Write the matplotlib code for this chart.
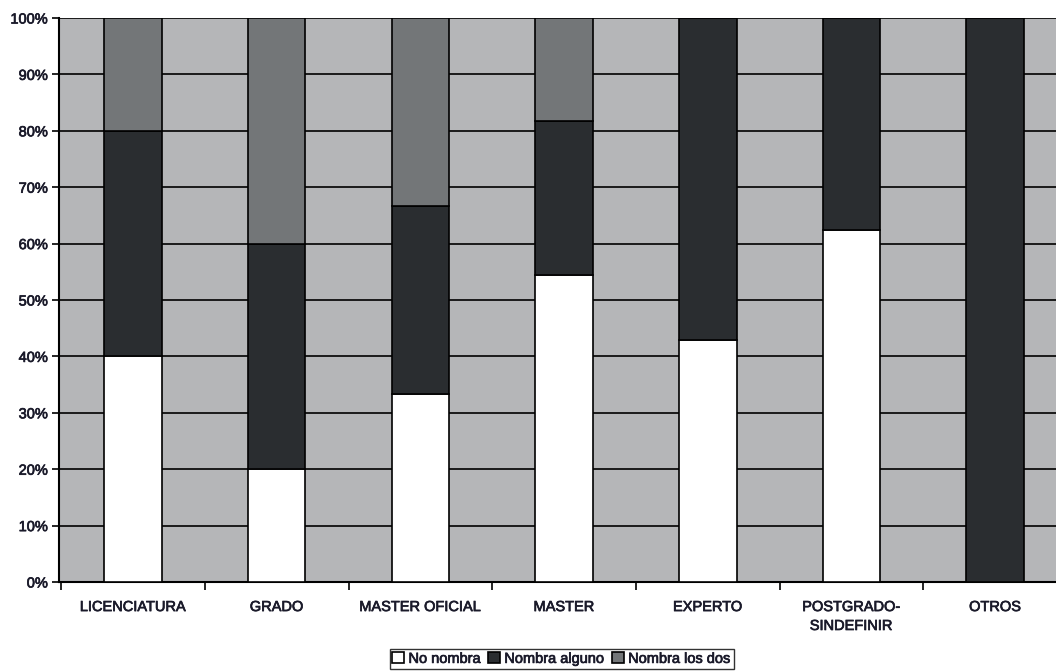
import matplotlib
matplotlib.use("Agg")
import matplotlib.pyplot as plt
import matplotlib.patheffects as pe
import numpy as np

plt.rcParams['font.family'] = ['Liberation Sans', 'DejaVu Sans']
plt.rcParams['font.size'] = 10.5
plt.rcParams['text.color'] = '#1a1a2a'
plt.rcParams['xtick.color'] = 'black'
plt.rcParams['ytick.color'] = 'black'
plt.rcParams['xtick.labelcolor'] = '#1a1a2a'
plt.rcParams['ytick.labelcolor'] = '#1a1a2a'

categorias = ["LICENCIATURA", "GRADO", "MASTER OFICIAL", "MASTER",
              "EXPERTO", "POSTGRADO-\nSINDEFINIR", "OTROS"]
no_nombra = [40.0, 20.0, 33.3, 54.5, 42.9, 62.5, 0.0]
nombra_alguno = [40.0, 40.0, 33.3, 27.3, 57.1, 37.5, 100.0]
nombra_los_dos = [20.0, 40.0, 33.4, 18.2, 0.0, 0.0, 0.0]

fig = plt.figure(figsize=(10.56, 6.71), dpi=100)
ax = fig.add_axes([59/1056, 89/671, 1008/1056, 564/671])
ax.set_facecolor('#b5b6b8')

x = np.arange(len(categorias))
w = 0.40
ax.bar(x, no_nombra, w, color='white', edgecolor='black', linewidth=1.2,
       label='No nombra', zorder=3)
ax.bar(x, nombra_alguno, w, bottom=no_nombra, color='#2a2d30',
       edgecolor='black', linewidth=1.2, label='Nombra alguno', zorder=3)
base = np.array(no_nombra) + np.array(nombra_alguno)
ax.bar(x, nombra_los_dos, w, bottom=base, color='#737678',
       edgecolor='black', linewidth=1.2, label='Nombra los dos', zorder=3)

ax.set_xlim(-0.515, len(categorias) - 0.515)
ax.set_ylim(0, 100)
ax.set_yticks(np.arange(0, 101, 10))
ax.set_yticklabels([f"{v}%" for v in range(0, 101, 10)])
ax.yaxis.grid(True, color='black', linewidth=1.2, zorder=1)
ax.set_axisbelow(True)

ax.set_xticks(x)
ax.set_xticklabels(categorias, va='top', linespacing=1.45)
ax.tick_params(axis='x', length=0, pad=13)
ax.set_xticks(np.arange(-0.5, len(categorias), 1), minor=True)
ax.tick_params(axis='x', which='minor', length=6, width=1.2, direction='out')
ax.tick_params(axis='y', length=5, width=1.2, direction='out', pad=3)

for s in ['top', 'right']:
    ax.spines[s].set_visible(False)
ax.spines['left'].set_linewidth(1.5)
ax.spines['bottom'].set_linewidth(1.5)

grueso = [pe.withStroke(linewidth=0.5, foreground='#1a1a2a')]
for t in ax.get_xticklabels() + ax.get_yticklabels():
    t.set_path_effects(grueso)

leg = fig.legend(loc='lower center', bbox_to_anchor=(0.532, 0.0), ncol=3,
                 frameon=True, fancybox=False, edgecolor='black',
                 handlelength=0.8, handleheight=0.8, handletextpad=0.3,
                 columnspacing=0.5, borderpad=0.2, borderaxespad=0.15)
leg.get_frame().set_linewidth(1.0)
for t in leg.get_texts():
    t.set_path_effects(grueso)

plt.savefig('out.png', dpi=100)
